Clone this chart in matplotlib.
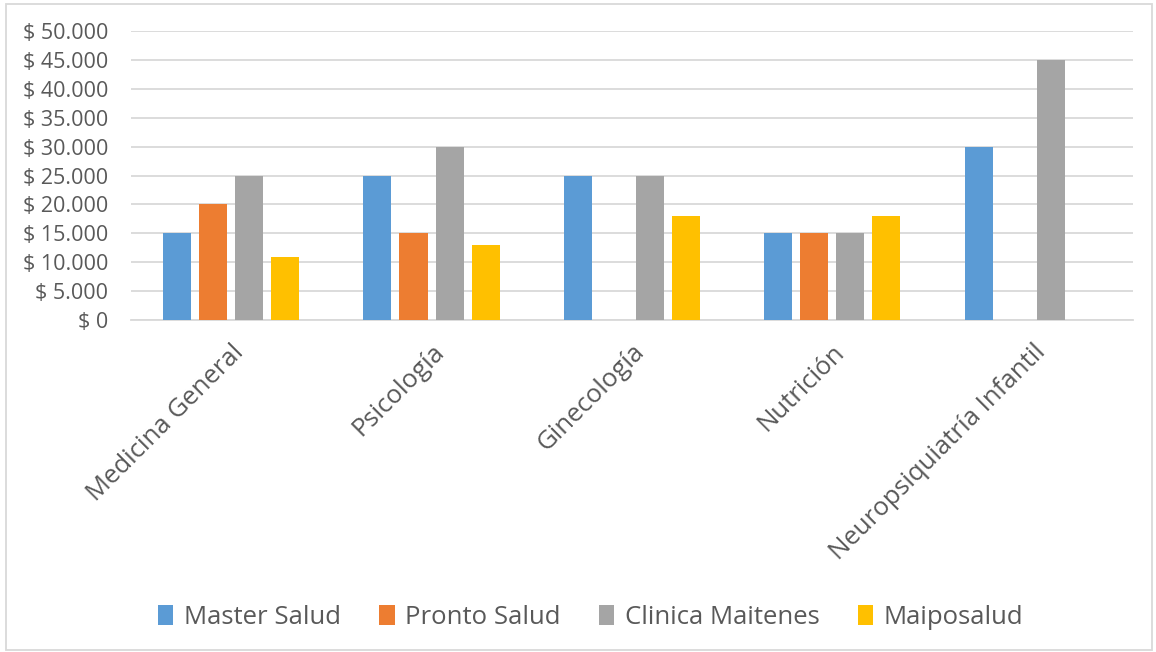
import matplotlib.pyplot as plt
import numpy as np
from matplotlib.patches import Rectangle

# data (None = no bar)
categories = ["Medicina General", "Psicología", "Ginecología", "Nutrición",
              "Neuropsiquiatría Infantil"]
master_salud = [15000, 25000, 25000, 15000, 30000]
pronto_salud = [20000, 15000, None, 15000, None]
clinica_maitenes = [25000, 30000, 25000, 15000, 45000]
maiposalud = [11000, 13000, 18000, 18000, None]

series_names = ["Master Salud", "Pronto Salud", "Clinica Maitenes", "Maiposalud"]
colors = ["#5b9bd5", "#ed7d31", "#a5a5a5", "#ffc000"]

plt.rcParams['font.family'] = ['Open Sans', 'DejaVu Sans']
text_color = "#595959"

fig = plt.figure(figsize=(11.56, 6.52), dpi=100)
ax = fig.add_axes([0.1133, 0.509, 0.8667, 0.4435])

x = np.arange(len(categories))
width = 0.14
step = 0.18
all_series = [master_salud, pronto_salud, clinica_maitenes, maiposalud]
for i, (vals, name, col) in enumerate(zip(all_series, series_names, colors)):
    v = [np.nan if val is None else val for val in vals]
    ax.bar(x + (i - 1.5) * step, v, width, color=col, label=name, zorder=3)

ax.set_xlim(-0.5, len(categories) - 0.5)
ax.set_ylim(0, 50000)
ax.set_yticks(np.arange(0, 50001, 5000))
ax.set_yticklabels(["$ " + f"{int(t):,}".replace(",", ".") for t in np.arange(0, 50001, 5000)])
ax.yaxis.grid(True, color="#d9d9d9", linewidth=1.3, zorder=0)
for s in ["top", "right", "left"]:
    ax.spines[s].set_visible(False)
ax.spines["bottom"].set_color("#d9d9d9")
ax.spines["bottom"].set_linewidth(1.3)
ax.tick_params(axis="y", length=0, pad=16.5, labelsize=15.5, labelcolor=text_color)
ax.tick_params(axis="x", length=0, pad=14)
ax.set_xticks(x)
ax.set_xticklabels(categories, rotation=45, ha="right", va="top",
                   rotation_mode="anchor", fontsize=18.5, color=text_color)

fig.legend(loc="center", bbox_to_anchor=(0.511, 0.053), ncol=4, frameon=False,
           fontsize=18.5, handlelength=0.6, handleheight=0.8, handletextpad=0.4,
           columnspacing=1.5, labelcolor=text_color)

fig.patches.append(Rectangle((6 / 1156, 2 / 652), 1146 / 1156, 646 / 652,
                             transform=fig.transFigure, fill=False,
                             edgecolor="#d9d9d9", linewidth=1.3))

fig.savefig("out.png", dpi=100)
